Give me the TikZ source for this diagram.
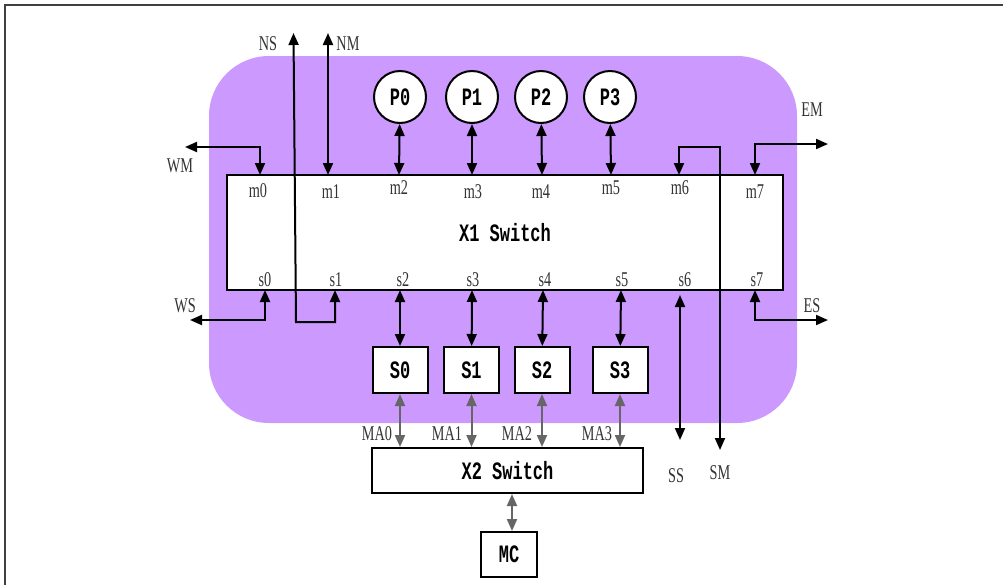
\documentclass[tikz,border=0pt]{standalone}
\usepackage{fontspec}
\setmainfont{Liberation Serif}
\newfontfamily\portfont[FakeStretch=0.68]{Liberation Serif}
\newfontfamily\boxfont[FakeStretch=0.68]{Liberation Mono}
\usetikzlibrary{arrows.meta}

\definecolor{purplebg}{HTML}{CC99FF}

\tikzset{
    blk/.style={draw, line width=1pt, fill=white, inner sep=0pt,
        font=\boxfont\bfseries\fontsize{12.5}{12.5}\selectfont},
    proc/.style={blk, circle, minimum size=26pt},
    port/.style={font=\portfont\fontsize{10.5}{10.5}\selectfont, text=black!80},
    tip/.tip={Triangle[length=6pt, width=5pt]},
    link/.style={line width=1pt, tip-tip},
    memlink/.style={link, draw=black!60, tip/.tip={Triangle[length=6pt, width=5pt, fill=black!60]}}
}

\begin{document}
\begin{tikzpicture}[x=0.5pt, y=-0.5pt]

    % Page and frame
    \useasboundingbox (0,0) rectangle (1003,585);
    \draw[line width=0.8pt, black!75] (1003,5) -- (5,5) -- (5,585);

    % Cluster background
    \fill[purplebg, rounded corners=30pt] (209,56) rectangle (797,423);

    % X1 switch with its ports
    \node[blk, minimum width=278pt, minimum height=57.5pt] (x1) at (505,232.5) {X1 Switch};
    \foreach \i/\x/\lx/\ly in {0/260/258/191, 1/328/331/192, 2/399/399/188, 3/472/473/192,
                               4/542/541/192, 5/611/611/188, 6/679/680/188, 7/755/755/192}
    {
        \coordinate (m\i) at (\x,175);
        \node[port] (lm\i) at (\lx,\ly) {m\i};
    }
    \foreach \i/\x/\lx in {0/265/265, 1/335/336, 2/400/403, 3/472/473,
                           4/543/545, 5/621/622, 6/680/685, 7/755/757}
    {
        \coordinate (s\i) at (\x,290);
        \node[port] (ls\i) at (\lx,280) {s\i};
    }

    % Processors and slaves
    \foreach \i/\x in {0/400, 1/472, 2/541, 3/610}
        \node[proc] (p\i) at (\x,97) {P\i};
    \foreach \i/\x in {0/400, 1/471.5, 2/542, 3/620}
        \node[blk, minimum width=27.5pt, minimum height=23pt] (sl\i) at (\x,370) {S\i};

    % X2 switch and memory controller
    \node[blk, minimum width=135.5pt, minimum height=22.5pt] (x2) at (507.5,470.5) {X2 Switch};
    \node[blk, minimum width=28pt, minimum height=22.5pt] (mc) at (509,554.5) {MC};

    % Links inside the cluster
    \draw[link] (p0) -- (m2);
    \draw[link] (p1) -- (m3);
    \draw[link] (p2) -- (m4);
    \draw[link] (p3) -- (m5);
    \draw[link] (s2) -- (sl0);
    \draw[link] (s3) -- (sl1);
    \draw[link] (s4) -- (sl2);
    \draw[link] (s5) -- (sl3);

    % Links leaving the cluster
    \coordinate (wm) at (185,147);
    \coordinate (nm) at (328,33);
    \coordinate (ns) at (293.5,33);
    \coordinate (nsturn) at (296,322);
    \coordinate (ws) at (190,320);
    \coordinate (smturn) at (720,147);
    \coordinate (sm) at (720,450);
    \coordinate (em) at (828,144);
    \coordinate (es) at (828,320);
    \coordinate (sstop) at (680,295);
    \coordinate (ss) at (680,440);
    \draw[link] (wm) -| (m0);
    \draw[link] (m1) -- (nm);
    \draw[link] (ns) -- (nsturn) -| (s1);
    \draw[link] (ws) -| (s0);
    \draw[link] (m6) |- (smturn) -- (sm);
    \draw[link] (m7) |- (em);
    \draw[link] (s7) |- (es);
    \draw[link] (sstop) -- (ss);

    % Memory side
    \foreach \i in {0,...,3}
        \draw[memlink] (sl\i) -- (sl\i |- x2.north);
    \draw[memlink] ([xshift=1.5pt]x2.south -| mc) -- ([xshift=1.5pt]mc.north);

    % Labels
    \node[port] (lns) at (268,44) {NS};
    \node[port] (lnm) at (348,44) {NM};
    \node[port] (lwm) at (180,166) {WM};
    \node[port] (lws) at (185,306) {WS};
    \node[port] (lem) at (812,110) {EM};
    \node[port] (les) at (812,306) {ES};
    \node[port] (lss) at (676,476) {SS};
    \node[port] (lsm) at (720,473) {SM};
    \foreach \i/\x in {0/377, 1/447, 2/517, 3/597}
        \node[port] (lma\i) at (\x,434) {MA\i};

\end{tikzpicture}
\end{document}
